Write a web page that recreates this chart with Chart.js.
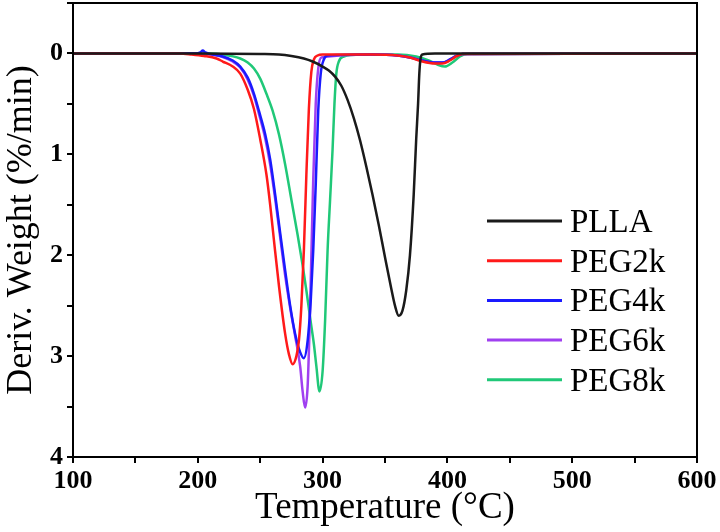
<!DOCTYPE html>
<html>
<head>
<meta charset="utf-8">
<script src="https://cdn.jsdelivr.net/npm/chart.js@4.4.1/dist/chart.umd.min.js"></script>
<style>
  body { margin: 0; background: #fff; }
  #wrap { width: 720px; height: 532px; }
</style>
</head>
<body>
<div id="wrap"><canvas id="myChart" width="720" height="532"></canvas></div>
<script>
// DTG curves, temperature (C) and deriv. weight (%/min)
const seriesNames = ['PLLA', 'PEG2k', 'PEG4k', 'PEG6k', 'PEG8k'];
const seriesColors = ['#1a1a1a', '#ff1a1a', '#1a1aff', '#a040f0', '#20c878'];

const pllaT = [100, 200, 250, 265, 275, 285, 292, 300, 305, 310, 315, 320, 325, 330, 335, 340, 345, 350, 355, 358, 361, 364, 367, 370, 373, 375, 376.5, 377.5, 378.5, 380, 390, 600];
const pllaV = [0, 0, 0.005, 0.01, 0.025, 0.05, 0.08, 0.13, 0.17, 0.23, 0.32, 0.46, 0.64, 0.86, 1.12, 1.4, 1.7, 2.02, 2.33, 2.5, 2.6, 2.55, 2.35, 2.0, 1.4, 0.85, 0.5, 0.2, 0.05, 0.01, 0, 0];

const peg2kT = [100, 185, 195, 205, 215, 220, 228, 234, 240, 245, 250, 255, 258, 261, 265, 270, 273, 276, 279, 281, 283, 285, 287, 289, 291, 293, 296, 300, 340, 360, 370, 380, 390, 396, 402, 407, 412, 600];
const peg2kV = [0, 0, 0.01, 0.025, 0.05, 0.08, 0.13, 0.2, 0.36, 0.55, 0.85, 1.2, 1.5, 1.85, 2.3, 2.78, 2.98, 3.08, 3.0, 2.85, 2.5, 1.95, 1.2, 0.55, 0.18, 0.06, 0.02, 0.01, 0.01, 0.02, 0.04, 0.08, 0.1, 0.1, 0.07, 0.03, 0.005, 0];

const peg4kT = [100, 198, 202, 204, 206, 210, 220, 228, 234, 240, 245, 249, 254, 258, 262, 266, 270, 274, 278, 282, 285, 288, 290.5, 292.5, 294.5, 296.5, 298.5, 301, 304, 340, 360, 370, 380, 390, 396, 402, 407, 412, 600];
const peg4kV = [0, 0, -0.01, -0.03, -0.01, 0.005, 0.03, 0.07, 0.13, 0.24, 0.4, 0.57, 0.8, 1.05, 1.4, 1.78, 2.15, 2.5, 2.78, 2.96, 3.02, 2.85, 2.45, 1.95, 1.3, 0.57, 0.2, 0.06, 0.02, 0.01, 0.02, 0.04, 0.07, 0.09, 0.09, 0.06, 0.025, 0.005, 0];

const peg6kT = [100, 200, 210, 220, 228, 234, 240, 245, 249, 254, 258, 262, 266, 270, 274, 278, 282, 284, 286, 288, 289.5, 291, 292.5, 294.5, 296.5, 299, 340, 360, 370, 380, 390, 396, 402, 407, 412, 600];
const peg6kV = [0, 0, 0.01, 0.035, 0.08, 0.14, 0.26, 0.42, 0.6, 0.84, 1.1, 1.44, 1.82, 2.2, 2.52, 2.8, 3.1, 3.35, 3.51, 3.3, 2.75, 2.0, 1.25, 0.5, 0.15, 0.04, 0.01, 0.02, 0.04, 0.07, 0.09, 0.09, 0.06, 0.025, 0.005, 0];

const peg8kT = [100, 210, 220, 234, 240, 245, 250, 255, 260, 265, 270, 275, 280, 284, 287, 290, 293, 295, 297.5, 300, 302, 304, 306, 308, 309.5, 311, 313, 317, 330, 360, 375, 385, 392, 398, 404, 410, 416, 600];
const peg8kV = [0, 0, 0.01, 0.05, 0.09, 0.15, 0.25, 0.4, 0.57, 0.8, 1.1, 1.45, 1.8, 2.1, 2.35, 2.62, 2.88, 3.1, 3.35, 3.15, 2.65, 1.95, 1.45, 0.95, 0.5, 0.2, 0.08, 0.03, 0.01, 0.01, 0.03, 0.07, 0.11, 0.13, 0.09, 0.03, 0.005, 0];

const allT = [pllaT, peg2kT, peg4kT, peg6kT, peg8kT];
const allV = [pllaV, peg2kV, peg4kV, peg6kV, peg8kV];

Chart.defaults.font.family = "'Liberation Serif', 'DejaVu Serif', serif";
Chart.defaults.color = '#000';

function makePoints(ts, vs) {
    return ts.map((t, i) => ({ x: t, y: vs[i] }));
}

const datasets = seriesNames.map((name, i) => ({
    label: name,
    data: makePoints(allT[i], allV[i]),
    borderColor: seriesColors[i],
    backgroundColor: seriesColors[i],
    borderWidth: 2.5,
    pointRadius: 0,
    cubicInterpolationMode: 'monotone',
    fill: false
}));

// frame round the plot + legend drawn by hand
const framePlugin = {
    id: 'frame',
    afterDraw(chart) {
        const ctx = chart.ctx;
        const a = chart.chartArea;
        ctx.save();
        ctx.strokeStyle = '#000';
        ctx.lineWidth = 2;
        ctx.strokeRect(a.left, a.top, a.right - a.left, a.bottom - a.top);

        // legend
        ctx.font = "33px 'Liberation Serif'";
        ctx.textBaseline = 'alphabetic';
        ctx.fillStyle = '#000';
        chart.data.datasets.forEach((ds, i) => {
            const y = 221 + i * 39.7;
            ctx.strokeStyle = ds.borderColor;
            ctx.lineWidth = 3;
            ctx.beginPath();
            ctx.moveTo(487, y);
            ctx.lineTo(562, y);
            ctx.stroke();
            ctx.fillText(ds.label, 570, y + 11);
        });
        ctx.restore();
    }
};

new Chart(document.getElementById('myChart').getContext('2d'), {
    type: 'line',
    data: { datasets: datasets },
    options: {
        responsive: false,
        animation: false,
        devicePixelRatio: 1,
        layout: { padding: { top: 3, right: 23, left: 0, bottom: 0 } },
        plugins: {
            legend: { display: false },
            tooltip: { enabled: false }
        },
        scales: {
            x: {
                type: 'linear',
                min: 100,
                max: 600,
                ticks: {
                    stepSize: 50,
                    autoSkip: false,
                    maxRotation: 0,
                    padding: 3,
                    font: { size: 26, weight: 'bold' },
                    callback: (v) => (v % 100 === 0 ? v : '')
                },
                grid: { drawOnChartArea: false, tickLength: 6, color: '#000', lineWidth: 2 },
                border: { color: '#000', width: 2 },
                title: {
                    display: true,
                    text: 'Temperature (\u00B0C)',
                    font: { size: 37 },
                    padding: { top: 0, bottom: 2 }
                },
                afterFit(scale) {
                    scale.height = 75;
                    scale.paddingLeft = 0;
                    scale.paddingRight = 0;
                }
            },
            y: {
                type: 'linear',
                reverse: true,
                min: -0.5,
                max: 4,
                ticks: {
                    stepSize: 0.5,
                    autoSkip: false,
                    padding: 4,
                    font: { size: 26, weight: 'bold' },
                    callback: (v) => (Number.isInteger(v) && v >= 0 ? v : '')
                },
                grid: { drawOnChartArea: false, tickLength: 6, color: '#000', lineWidth: 2 },
                border: { color: '#000', width: 2 },
                title: {
                    display: true,
                    text: 'Deriv. Weight (%/min)',
                    font: { size: 36 },
                    padding: { top: 0, bottom: 0 }
                },
                afterFit(scale) {
                    scale.width = 73;
                    scale.paddingTop = 0;
                    scale.paddingBottom = 0;
                }
            }
        }
    },
    plugins: [framePlugin]
});
</script>
</body>
</html>
